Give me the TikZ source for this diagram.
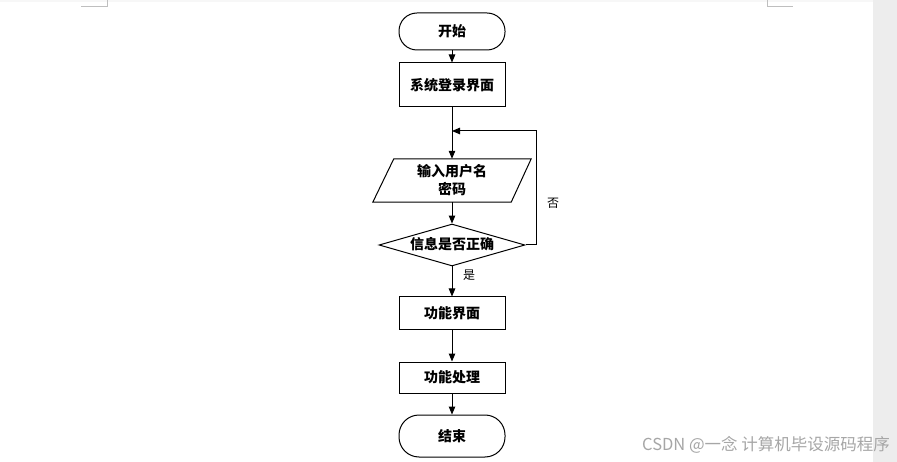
\documentclass[tikz,border=0pt]{standalone}
\usepackage{fontspec}
\usetikzlibrary{arrows.meta,shapes.geometric,calc}
\newfontfamily\cjk{Noto Sans CJK SC}
\begin{document}
\begin{tikzpicture}[x=1pt,y=-1pt,
  box/.style={draw,line width=1pt,minimum width=106pt,inner sep=0pt,
    font=\cjk\bfseries\fontsize{14}{18}\selectfont},
  term/.style={box,rounded corners=#1},
  arr/.style={line width=1pt,-{Triangle[length=8pt,width=6.5pt]}},
  lbl/.style={font=\cjk\fontsize{12}{14}\selectfont}]
\useasboundingbox (0,0) rectangle (897,462);
\fill[white] (0,0) rectangle (897,462);
\fill[black!3] (0,0) rectangle (873,2);
\fill[black!7] (873,0) rectangle (897,462);
\draw[draw=black!25,line width=1pt] (81,7) -- (107,7) -- (107,0);
\draw[draw=black!25,line width=1pt] (767,0) -- (767,7) -- (793,7);

\node[term=18pt,minimum height=37pt] (start) at (452,31.5) {开始};
\node[box,minimum height=44pt] (login) at (452,85) {系统登录界面};
\node[draw=none,minimum width=158pt,minimum height=43pt,inner sep=0pt,align=center,
  font=\cjk\bfseries\fontsize{14}{18}\selectfont] (in) at (452,180.5) {输入用户名\\密码};
\draw[line width=1pt] ($(in.north west)+(21,0)$) -- (in.north east)
  -- ($(in.south east)-(20,0)$) -- (in.south west) -- cycle;
\node[diamond,draw,line width=1pt,aspect=3.5,minimum width=146pt,minimum height=42pt,inner sep=0pt,
  font=\cjk\bfseries\fontsize{14}{14}\selectfont,text height=10pt,text depth=1pt] (chk) at (452,245) {信息是否正确};
\node[box,minimum height=33pt] (func) at (452,313.5) {功能界面};
\node[box,minimum height=31pt] (proc) at (452,377.5) {功能处理};
\node[term=20pt,minimum height=42pt] (end) at (452,436) {结束};

\coordinate (fb) at (452,131);
\coordinate (fr) at (536,131);

\draw[arr] (start) -- (login);
\draw[line width=1pt] (login) -- (fb);
\draw[arr] (fb) -- (in.north);
\draw[arr] (in.south) -- (chk);
\draw[arr] (chk.east) -| (fr) -- (fb);
\draw[arr] (chk) -- (func);
\draw[arr] (func) -- (proc);
\draw[arr] (proc) -- (end);

\node[lbl] (no) at (553,203) {否};
\node[lbl] (yes) at (469,275) {是};

\node[font=\cjk\fontsize{16.5}{18}\selectfont,text=black!35] (wm) at (766,445) {CSDN @一念 计算机毕设源码程序};
\end{tikzpicture}
\end{document}
